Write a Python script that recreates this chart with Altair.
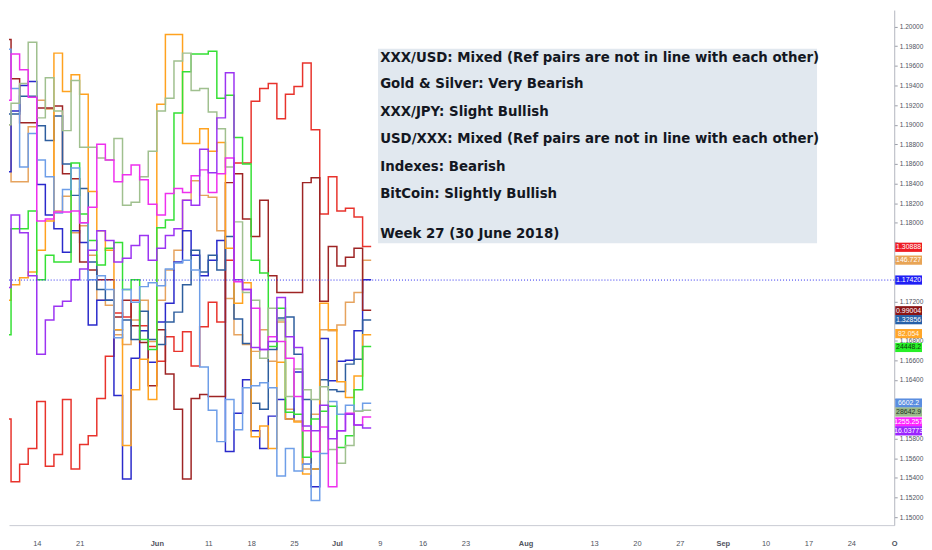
import altair as alt
import pandas as pd

# trading-day index (0 = 14 May 2018), one value per day
days = list(range(-5, 39))

gbpusd = [1.1600, 1.1600, 1.1536, 1.1554, 1.1570, 1.1618, 1.1552, 1.1564, 1.1620, 1.1549, 1.1574,
          1.1583, 1.1621, 1.1664, 1.1708, 1.1704, 1.1721, 1.1695, 1.1674, 1.1659, 1.1684, 1.1669,
          1.1689, 1.1654, 1.1694, 1.1719, 1.1699, 1.1762, 1.1861, 1.1861, 1.1924, 1.1937, 1.1942,
          1.1906, 1.1931, 1.1939, 1.1963, 1.1895, 1.1809, 1.1847, 1.1812, 1.1815, 1.1806, 1.1776]
gbpjpy = [1.1900, 1.1900, 1.1842, 1.1842, 1.1898, 1.1925, 1.1916, 1.1812, 1.1827, 1.1790, 1.1797,
          1.1767, 1.1721, 1.1716, 1.1686, 1.1676, 1.1701, 1.1721, 1.1679, 1.1721, 1.1752, 1.1772,
          1.1823, 1.1843, 1.1828, 1.1826, 1.1792, 1.1723, 1.1686, 1.1676, 1.1669, 1.1691, 1.1659,
          1.1699, 1.1610, 1.1598, 1.1549, 1.1605, 1.1691, 1.1690, 1.1696, 1.1719, 1.1729, 1.1762]
eurusd = [1.1852, 1.1852, 1.1914, 1.1940, 1.1944, 1.1839, 1.1808, 1.1794, 1.1770, 1.1792, 1.1780,
          1.1696, 1.1721, 1.1721, 1.1624, 1.1539, 1.1662, 1.1690, 1.1658, 1.1699, 1.1718, 1.1760,
          1.1792, 1.1767, 1.1746, 1.1762, 1.1782, 1.1567, 1.1606, 1.1640, 1.1588, 1.1570, 1.1603,
          1.1620, 1.1600, 1.1648, 1.1554, 1.1531, 1.1682, 1.1639, 1.1659, 1.1660, 1.1690, 1.1742]
usdchf = [1.1987, 1.1987, 1.1947, 1.1902, 1.1902, 1.1917, 1.1917, 1.1919, 1.1850, 1.1845, 1.1760,
          1.1752, 1.1742, 1.1742, 1.1704, 1.1721, 1.1695, 1.1678, 1.1634, 1.1691, 1.1646, 1.1610,
          1.1539, 1.1621, 1.1625, 1.1623, 1.1623, 1.1841, 1.1850, 1.1804, 1.1786, 1.1823, 1.1746,
          1.1729, 1.1729, 1.1729, 1.1841, 1.1846, 1.1720, 1.1776, 1.1756, 1.1765, 1.1774, 1.1711]
usdcad = [1.1911, 1.1911, 1.1911, 1.1929, 1.1929, 1.1899, 1.1884, 1.1909, 1.1860, 1.1828, 1.1835,
          1.1760, 1.1732, 1.1721, 1.1691, 1.1701, 1.1681, 1.1710, 1.1681, 1.1676, 1.1699, 1.1709,
          1.1737, 1.1772, 1.1750, 1.1767, 1.1752, 1.1786, 1.1702, 1.1677, 1.1616, 1.1610, 1.1671,
          1.1703, 1.1704, 1.1666, 1.1620, 1.1549, 1.1640, 1.1630, 1.1628, 1.1656, 1.1661, 1.1701]
audjpy = [1.1600, 1.1721, 1.1737, 1.1744, 1.1750, 1.1772, 1.1802, 1.1973, 1.1934, 1.1951, 1.1931,
          1.1832, 1.1792, 1.1772, 1.1691, 1.1573, 1.1630, 1.1661, 1.1620, 1.1921, 1.1992, 1.1992,
          1.1881, 1.1881, 1.1896, 1.1873, 1.1882, 1.1774, 1.1718, 1.1739, 1.1582, 1.1593, 1.1570,
          1.1658, 1.1600, 1.1597, 1.1544, 1.1549, 1.1718, 1.1691, 1.1638, 1.1622, 1.1644, 1.1686]
us30 = [1.1686, 1.1686, 1.1794, 1.1794, 1.1812, 1.1742, 1.1767, 1.1760, 1.1760, 1.1861, 1.1809,
        1.1782, 1.1757, 1.1774, 1.1780, 1.1732, 1.1742, 1.1681, 1.1671, 1.1795, 1.1803, 1.1912,
        1.1954, 1.1972, 1.1972, 1.1975, 1.1927, 1.1930, 1.1887, 1.1860, 1.1762, 1.1749, 1.1674,
        1.1713, 1.1607, 1.1605, 1.1561, 1.1600, 1.1608, 1.1613, 1.1571, 1.1583, 1.1630, 1.1674]
btcusd = [1.1977, 1.1977, 1.1937, 1.1857, 1.1891, 1.1864, 1.1847, 1.1810, 1.1834, 1.1856, 1.1800,
          1.1742, 1.1746, 1.1732, 1.1683, 1.1732, 1.1719, 1.1735, 1.1739, 1.1736, 1.1753, 1.1759,
          1.1762, 1.1752, 1.1653, 1.1609, 1.1577, 1.1620, 1.1589, 1.1632, 1.1634, 1.1637, 1.1632,
          1.1542, 1.1570, 1.1547, 1.1554, 1.1517, 1.1565, 1.1618, 1.1605, 1.1614, 1.1608, 1.1616]
hsi = [1.1809, 1.1900, 1.1922, 1.1942, 1.1984, 1.1907, 1.1948, 1.1914, 1.1894, 1.1945, 1.1877,
       1.1877, 1.1866, 1.1864, 1.1886, 1.1818, 1.1821, 1.1847, 1.1873, 1.1914, 1.1927, 1.1965,
       1.1973, 1.1935, 1.1937, 1.1913, 1.1896, 1.1857, 1.1801, 1.1729, 1.1721, 1.1662, 1.1713,
       1.1701, 1.1623, 1.1651, 1.1630, 1.1620, 1.1633, 1.1569, 1.1555, 1.1573, 1.1608, 1.1609]
xauusd = [1.1936, 1.1925, 1.1972, 1.1956, 1.1928, 1.1802, 1.1804, 1.1811, 1.1811, 1.1812, 1.1800,
          1.1816, 1.1880, 1.1864, 1.1842, 1.1849, 1.1859, 1.1844, 1.1819, 1.1808, 1.1830, 1.1835,
          1.1831, 1.1848, 1.1854, 1.1831, 1.1850, 1.1866, 1.1740, 1.1732, 1.1713, 1.1671, 1.1684,
          1.1679, 1.1662, 1.1623, 1.1588, 1.1567, 1.1592, 1.1531, 1.1588, 1.1606, 1.1594, 1.1602]
xagusd = [1.1734, 1.1734, 1.1808, 1.1790, 1.1746, 1.1666, 1.1701, 1.1715, 1.1720, 1.1742, 1.1753,
          1.1772, 1.1792, 1.1782, 1.1760, 1.1764, 1.1777, 1.1787, 1.1762, 1.1774, 1.1787, 1.1794,
          1.1823, 1.1818, 1.1875, 1.1851, 1.1907, 1.1953, 1.1742, 1.1732, 1.1673, 1.1671, 1.1679,
          1.1724, 1.1684, 1.1673, 1.1593, 1.1588, 1.1614, 1.1580, 1.1588, 1.1605, 1.1594, 1.1591]

series_names = ["GBPUSD", "GBPJPY", "EURUSD", "USDCHF", "USDCAD", "AUDJPY",
                "US30", "BTCUSD", "HSI", "XAUUSD", "XAGUSD"]
series_values = [gbpusd, gbpjpy, eurusd, usdchf, usdcad, audjpy, us30, btcusd, hsi, xauusd, xagusd]
series_colors = ["#e8332c", "#e6a35e", "#2a2acb", "#9e2424", "#2e5e9e", "#ffa21f",
                 "#35e035", "#6e9ee8", "#a0c08f", "#ee30ee", "#9c34f2"]

# last-price tags on the right scale
tag_labels = ["1.30888", "146.727", "1.17420", "0.99004", "1.32856", "82.054",
              "24448.2", "6602.2", "28642.9", "1255.257", "16.03773"]
tag_prices = [1.17751, 1.17620, 1.17417, 1.17104, 1.17013, 1.16871,
              1.16730, 1.16163, 1.16072, 1.15971, 1.15880]
tag_fills = ["#ee1c24", "#e8a455", "#1f1ff5", "#8b1414", "#2660a8", "#ffa629",
             "#27f027", "#5b8ee0", "#9ab98a", "#ff24ff", "#9a24ff"]
tag_text_colors = ["#ffffff", "#ffffff", "#ffffff", "#ffffff", "#ffffff", "#fff5e0",
                   "#0f3d0f", "#ffffff", "#243524", "#ffffff", "#ffffff"]

notes = ["XXX/USD: Mixed (Ref pairs are not in line with each other)",
         "Gold & Silver: Very Bearish",
         "XXX/JPY: Slight Bullish",
         "USD/XXX: Mixed (Ref pairs are not in line with each other)",
         "Indexes: Bearish",
         "BitCoin: Slightly Bullish",
         "Week 27 (30 June 2018)"]
note_prices = [1.19684, 1.19410, 1.19127, 1.18854, 1.18571, 1.18298, 1.17883]

x_tick_values = [0, 5, 14, 20, 25, 30, 35, 40, 45, 50, 57, 65, 70, 75, 80, 85, 90, 95, 100]
x_tick_labels = ["14", "21", "Jun", "11", "18", "25", "Jul", "9", "16", "23", "Aug",
                 "13", "20", "27", "Sep", "10", "17", "24", "O"]
month_ticks = [14, 35, 57, 80, 100]
# price labels that sit fully under a last-price tag
y_hidden_labels = [1.178, 1.176, 1.174, 1.170, 1.162, 1.160]

# ---- build tables ----
rows = []
for name, vals in zip(series_names, series_values):
    for d, v in zip(days, vals):
        rows.append({"series": name, "day": d, "price": v})
    rows.append({"series": name, "day": days[-1] + 1, "price": vals[-1]})
lines_df = pd.DataFrame(rows)

tags_df = pd.DataFrame({"label": tag_labels, "price": tag_prices,
                        "fill": tag_fills, "tcolor": tag_text_colors})
notes_df = pd.DataFrame({"note": notes, "price": note_prices})

x_scale = alt.Scale(domain=[-3.24, 100], nice=False, zero=False)
y_scale = alt.Scale(domain=[1.14919, 1.20169], nice=False, zero=False)

label_expr = ("[" + ",".join("'" + s + "'" for s in x_tick_labels) + "][indexof(["
              + ",".join(str(v) for v in x_tick_values) + "], datum.value)]")
hidden_test = " || ".join("abs(datum.value - %s) < 0.0004" % v for v in y_hidden_labels)
y_label_expr = "(" + hidden_test + ") ? '' : format(datum.value, '.5f')"

x_axis = alt.Axis(values=x_tick_values, labelExpr=label_expr, grid=False, ticks=False,
                  domainColor="#c9ccd3", labelColor="#50535e", labelFontSize=7.5,
                  labelFont="Liberation Sans", labelPadding=15, labelFlush=False,
                  labelOverlap=False, title=None,
                  labelFontWeight={"condition": {"test": "indexof([" + ",".join(str(v) for v in month_ticks) + "], datum.value) >= 0",
                                                 "value": "bold"},
                                   "value": "normal"})
y_axis = alt.Axis(orient="right", tickCount=26, labelExpr=y_label_expr, grid=False,
                  tickSize=3, tickColor="#9a9da6", domainColor="#b2b5be",
                  labelColor="#50535e", labelFontSize=6.6, labelFont="Liberation Sans",
                  labelPadding=2, title=None, labelOverlap=False, labelFlush=False,
                  labelBound=False)

lines = alt.Chart(lines_df).mark_line(interpolate="step-after", strokeWidth=1.5, clip=True).encode(
    x=alt.X("day:Q", scale=x_scale, axis=x_axis),
    y=alt.Y("price:Q", scale=y_scale, axis=y_axis),
    color=alt.Color("series:N", scale=alt.Scale(domain=series_names, range=series_colors), legend=None),
    detail="series:N",
)

price_line = alt.Chart(pd.DataFrame({"price": [tag_prices[2]]})).mark_rule(
    color="#2a2af0", strokeDash=[1, 2], strokeWidth=1).encode(
    y=alt.Y("price:Q", scale=y_scale, axis=y_axis))

box = alt.Chart(pd.DataFrame({"a": [0]})).mark_rect(color="#e1e8ef").encode(
    x=alt.datum(39.8), x2=alt.datum(91.0), y=alt.datum(1.19775), y2=alt.datum(1.17792))

note_text = alt.Chart(notes_df).mark_text(
    align="left", baseline="middle", font="DejaVu Sans", fontWeight="bold",
    fontSize=13.45, color="#131722").encode(
    x=alt.datum(40.05), y=alt.Y("price:Q", scale=y_scale, axis=y_axis), text="note:N")

tag_rect = alt.Chart(tags_df).transform_calculate(
    top="datum.price + 0.00047", bottom="datum.price - 0.00047").mark_rect(clip=False).encode(
    x=alt.value(893), x2=alt.value(920),
    y=alt.Y("top:Q", scale=y_scale, axis=y_axis), y2="bottom:Q",
    color=alt.Color("fill:N", scale=None))

tag_text = alt.Chart(tags_df).mark_text(
    align="center", baseline="middle", fontSize=7, font="Liberation Sans").encode(
    x=alt.value(906.5), y=alt.Y("price:Q", scale=y_scale, axis=y_axis), text="label:N",
    color=alt.Color("tcolor:N", scale=None))

chart = alt.layer(lines, box, note_text, price_line, tag_rect, tag_text).properties(
    width=892, height=519, padding=0, background="#ffffff"
).configure_view(stroke=None).configure_axis(labelOverlap=False)

chart.save("out.html", embed_options={"renderer": "svg", "actions": False})
